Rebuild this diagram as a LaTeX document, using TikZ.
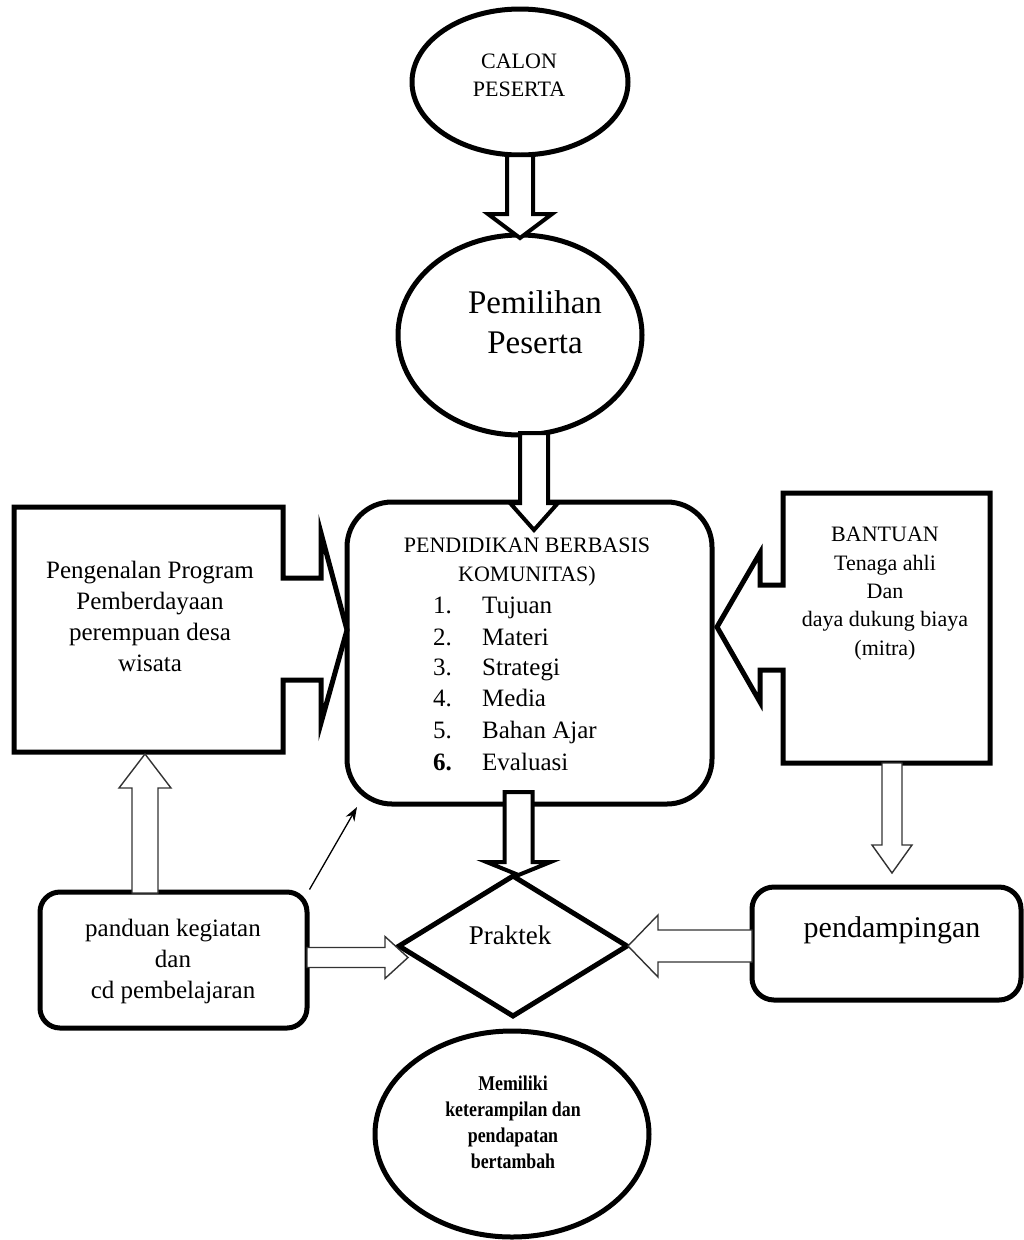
\documentclass[tikz,border=0pt]{standalone}
\usepackage{fontspec}
\setmainfont{Liberation Serif}
\newfontfamily\condserif[FakeStretch=0.85]{Liberation Serif}
\usetikzlibrary{shapes.geometric,arrows.meta}
\tikzset{
  heavy/.style={line width=5pt,draw=black},
  big/.style={line width=4pt,draw=black,fill=white,line join=miter},
  thinarr/.style={line width=1.4pt,draw=black!80,fill=white,line join=miter},
  txt/.style={inner sep=0pt,align=center},
  ell/.style={heavy,ellipse,inner sep=0pt,fill=white},
}
\newcommand\varrow[7]{\draw[#1] ({#2-#6},#3) -- ({#2-#6},#4) -- ({#2-#7},#4) -- (#2,#5) -- ({#2+#7},#4) -- ({#2+#6},#4) -- ({#2+#6},#3) -- cycle;}
\newcommand\harrow[7]{\draw[#1] (#3,{#2-#6}) -- (#4,{#2-#6}) -- (#4,{#2-#7}) -- (#5,#2) -- (#4,{#2+#7}) -- (#4,{#2+#6}) -- (#3,{#2+#6}) -- cycle;}
\begin{document}
\begin{tikzpicture}[x=1pt,y=-1pt]
\useasboundingbox (0,0) rectangle (1024,1240);
\fill[white] (0,0) rectangle (1024,1240);

% ellipses
\node[ell,minimum width=216,minimum height=146] (calon) at (520,82) {};
\node[txt,font=\fontsize{22}{28}\selectfont] (calont) at (519,75) {CALON\\PESERTA};
\node[ell,minimum width=244,minimum height=200] (pem) at (520,335) {};
\node[txt,font=\fontsize{33}{40}\selectfont] (pemt) at (535,322) {Pemilihan\\Peserta};

% central box
\node[heavy,rectangle,rounded corners=45pt,minimum width=365,minimum height=302,inner sep=0pt] (pbk) at (529.5,653) {};
\node[txt,font=\fontsize{22}{29}\selectfont] (pbkt) at (527,562.5) {PENDIDIKAN BERBASIS\\KOMUNITAS)};
\foreach \n/\t/\y/\k in {1./Tujuan/613/a,2./Materi/645/b,3./Strategi/675/c,4./Media/706/d,5./Bahan Ajar/738/e}{
  \node[txt,anchor=base west,font=\fontsize{25}{30}\selectfont] (num\k) at (433,\y) {\n};
  \node[txt,anchor=base west,font=\fontsize{25}{30}\selectfont] (item\k) at (482,\y) {\t};
}
\node[txt,anchor=base west,font=\fontsize{25}{30}\selectfont\bfseries] (numf) at (433,770) {6.};
\node[txt,anchor=base west,font=\fontsize{25}{30}\selectfont] (itemf) at (482,770) {Evaluasi};

% left box with notched arrow
\draw[heavy,line join=miter] (14,507) -- (283,507) -- (283,578) -- (321,578) -- (321,533) -- (347,630) -- (321,723) -- (321,680) -- (283,680) -- (283,752) -- (14,752) -- cycle;
\node[txt,font=\fontsize{25}{31}\selectfont] (leftt) at (150,616.5) {Pengenalan Program\\Pemberdayaan\\perempuan desa\\wisata};

% right box with notched arrow
\draw[heavy,line join=miter] (990,493) -- (783,493) -- (783,585) -- (760,585) -- (760,553) -- (717,627) -- (760,702) -- (760,670) -- (783,670) -- (783,763) -- (990,763) -- cycle;
\node[txt,font=\fontsize{22}{28.3}\selectfont] (rightt) at (885,593.5) {BANTUAN\\Tenaga ahli\\Dan\\daya dukung biaya\\(mitra)};

% panduan box
\node[heavy,rectangle,rounded corners=20pt,minimum width=267,minimum height=136,inner sep=0pt] (pan) at (173.5,960) {};
\node[txt,font=\fontsize{25}{31}\selectfont] (pant) at (173,961) {panduan kegiatan\\dan\\cd pembelajaran};

% pendampingan box
\node[heavy,rectangle,rounded corners=22pt,minimum width=269,minimum height=113,inner sep=0pt] (pend) at (886.5,943.5) {};
\node[txt,font=\fontsize{30}{36}\selectfont] (pendt) at (892,930) {pendampingan};

% diamond
\node[heavy,diamond,minimum width=230,minimum height=142,inner sep=0pt,fill=white] (prak) at (513,946) {};
\node[txt,font=\fontsize{27}{32}\selectfont] (prakt) at (510,935) {Praktek};

% bottom ellipse
\node[ell,minimum width=274,minimum height=206] (hasil) at (512,1134) {};
\node[txt,font=\condserif\bfseries\fontsize{21}{26}\selectfont] (hasilt) at (513,1122) {Memiliki\\keterampilan dan\\pendapatan\\bertambah};

% hollow arrows
\varrow{big}{520}{155}{214}{238}{13}{32}
\varrow{big}{534}{433}{503}{530}{14}{24}
\varrow{big}{518.5}{792}{862}{875}{14}{32}
\varrow{thinarr}{892}{763}{845}{873}{10}{20}
\varrow{thinarr}{145}{893}{788}{754}{13}{26}
\harrow{thinarr}{946}{752}{658}{628}{16}{31}
\harrow{thinarr}{957.5}{307}{385}{408}{10}{21}

% thin pointer
\coordinate (ptr) at (357,807);
\draw[line width=1.3pt,-{Stealth[length=14pt,width=10pt]}] (pan.north east) -- (ptr);
\end{tikzpicture}
\end{document}
